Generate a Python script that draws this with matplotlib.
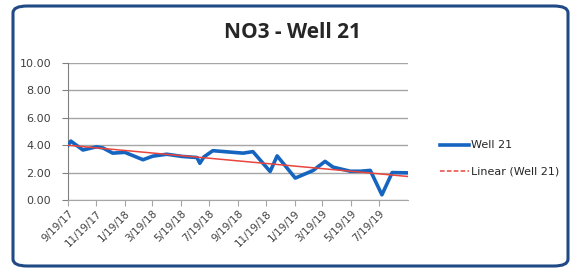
import matplotlib
matplotlib.use('Agg')
import matplotlib.pyplot as plt
import matplotlib.dates as mdates
from matplotlib.patches import FancyBboxPatch
import numpy as np
import datetime as dt

# NO3 readings for Well 21
sample_dates = ['2017-09-19', '2017-09-25', '2017-10-21', '2017-11-19', '2017-12-03',
                '2017-12-24', '2018-01-19', '2018-02-27', '2018-03-20', '2018-04-19',
                '2018-05-22', '2018-06-23', '2018-06-29', '2018-07-08', '2018-07-27',
                '2018-09-08', '2018-09-30', '2018-10-21', '2018-11-27', '2018-12-12',
                '2019-01-20', '2019-02-27', '2019-03-25', '2019-04-11', '2019-05-18',
                '2019-06-09', '2019-06-30', '2019-07-25', '2019-08-16', '2019-09-19']
no3 = [4.00, 4.30, 3.65, 3.88, 3.80,
       3.42, 3.48, 2.94, 3.20, 3.34,
       3.18, 3.10, 2.68, 3.15, 3.60,
       3.48, 3.42, 3.53, 2.08, 3.22,
       1.60, 2.15, 2.82, 2.40, 2.10,
       2.10, 2.16, 0.38, 2.00, 1.98]

tick_dates = ['2017-09-19', '2017-11-19', '2018-01-19', '2018-03-19', '2018-05-19',
              '2018-07-19', '2018-09-19', '2018-11-19', '2019-01-19', '2019-03-19',
              '2019-05-19', '2019-07-19']
tick_labels = ['9/19/17', '11/19/17', '1/19/18', '3/19/18', '5/19/18', '7/19/18',
               '9/19/18', '11/19/18', '1/19/19', '3/19/19', '5/19/19', '7/19/19']
y_ticks = [0, 2, 4, 6, 8, 10]

x = [dt.datetime.strptime(d, '%Y-%m-%d') for d in sample_dates]
xn = mdates.date2num(x)
xt = [dt.datetime.strptime(d, '%Y-%m-%d') for d in tick_dates]

# linear trend like Excel's trendline
k, b = np.polyfit(xn, no3, 1)
trend = k * xn + b

fig = plt.figure(figsize=(5.73, 2.72), dpi=100)
fig.patch.set_facecolor('white')

# rounded chart border
border = FancyBboxPatch((13 / 573, 6 / 272), 555 / 573, 260 / 272,
                        boxstyle='round,pad=0,rounding_size=0.025',
                        transform=fig.transFigure, facecolor='none',
                        edgecolor='#1F4A85', linewidth=2.2, zorder=-1)
fig.patches.append(border)

ax = fig.add_axes([68 / 573, 1 - 200 / 272, 340 / 573, 137 / 272])
ax.set_facecolor('none')

ax.plot(x, no3, color='#1565C0', lw=2.6, solid_joinstyle='round', zorder=3,
        label='Well 21')
ax.plot(x, trend, color='#E8453C', lw=1.1, zorder=4, label='Linear (Well 21)')

ax.set_ylim(0, 10)
ax.set_yticks(y_ticks)
ax.set_yticklabels([f'{v:.2f}' for v in y_ticks])
ax.set_xlim(xn[0], xn[-1])
ax.set_xticks(xt)
ax.set_xticklabels(tick_labels, rotation=45, ha='right', rotation_mode='anchor')

ax.yaxis.grid(True, color='#A6A6A6', lw=1.0)
ax.set_axisbelow(True)
for s in ['top', 'right']:
    ax.spines[s].set_visible(False)
ax.spines['left'].set_color('#808080')
ax.spines['bottom'].set_color('#A6A6A6')
ax.tick_params(axis='y', labelsize=8, colors='#404040', length=4, color='#808080', pad=8)
ax.tick_params(axis='x', labelsize=7.5, colors='#404040', length=4, color='#A6A6A6', pad=2)

fig.text(293 / 573, 1 - 32 / 272, 'NO3 - Well 21', ha='center', va='center',
         fontsize=15, fontweight='bold', color='#262626', family='Open Sans')

# legend
lx0, lx1, ltx = 440 / 573, 469 / 573, 471 / 573
fig.lines.append(plt.Line2D([lx0, lx1], [1 - 145 / 272] * 2, transform=fig.transFigure,
                            color='#1565C0', lw=2.6))
fig.lines.append(plt.Line2D([lx0, lx1], [1 - 171 / 272] * 2, transform=fig.transFigure,
                            color='#E8453C', lw=1.1, dashes=(3, 1.5)))
fig.text(ltx, 1 - 145 / 272, 'Well 21', va='center', fontsize=8, color='#262626')
fig.text(ltx, 1 - 171 / 272, 'Linear (Well 21)', va='center', fontsize=8, color='#262626')

plt.savefig('out.png', dpi=100, facecolor='white')
